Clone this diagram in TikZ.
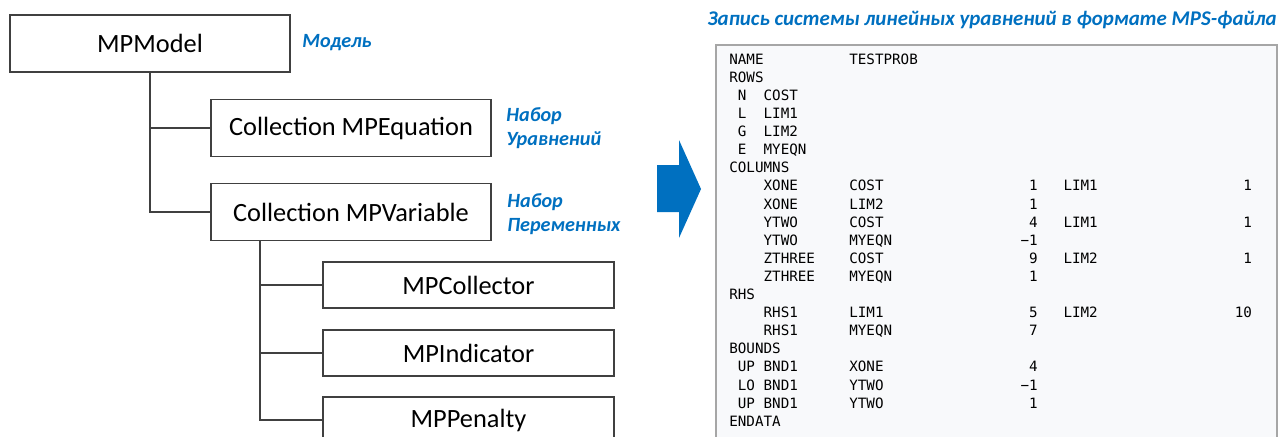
\documentclass[tikz,border=0pt]{standalone}
\usepackage{fontspec}
\setmainfont{Carlito}
\newfontfamily\mpsfont{DejaVu Sans Mono}
\usepackage{array}
\usepackage{tikz}

\definecolor{mpblue}{RGB}{0,112,192}
\definecolor{boxline}{RGB}{64,64,64}
\definecolor{filegray}{RGB}{166,166,166}
\definecolor{filebg}{RGB}{248,249,251}

% one character of the file font
\newlength\cw
\newcolumntype{L}[1]{>{\raggedright\arraybackslash}p{#1\cw}}
\newcolumntype{R}[1]{>{\raggedleft\arraybackslash}p{#1\cw}}

\tikzset{
	cls/.style={draw=boxline, line width=0.85pt, minimum width=5.6cm, minimum height=1.14cm, inner sep=0pt, font=\fontsize{15}{18}\selectfont},
	subcls/.style={cls, minimum width=5.82cm, minimum height=0.92cm},
	note/.style={anchor=west, align=left, inner sep=0pt, text=mpblue, font=\fontsize{11.5}{14}\selectfont\bfseries\itshape},
	link/.style={draw=boxline, line width=0.85pt}
}

\begin{document}
\begin{tikzpicture}[x=0.02cm,y=-0.02cm]
	\clip (0,0) rectangle (1280,436);
	% classes
	\node[cls] (model) at (150,43.5) {MPModel};
	\node[cls] (equation) at (351,128) {Collection MPEquation};
	\node[cls] (variable) at (351,212) {Collection MPVariable};
	\node[subcls] (collector) at (468.5,285) {MPCollector};
	\node[subcls] (indicator) at (468.5,353) {MPIndicator};
	\node[subcls] (penalty) at (468.5,420) {MPPenalty};

	% notes
	\node[note] (modelnote) at (302,43) {Модель};
	\node[note] (eqnote) at (506,128) {Набор\\Уравнений};
	\node[note] (varnote) at (507,214) {Набор\\Переменных};

	% tree
	\draw[link] (model.south) |- (variable.west);
	\draw[link] (model.south |- equation.west) -- (equation.west);
	\coordinate (varroot) at (260,241);
	\draw[link] (varroot) |- (penalty.west);
	\draw[link] (varroot |- collector.west) -- (collector.west);
	\draw[link] (varroot |- indicator.west) -- (indicator.west);

	% arrow
	\fill[mpblue] (657,165) -- (679,165) -- (679,140) -- (701,189) -- (679,238) -- (679,212) -- (657,212) -- cycle;

	% mps file
	\node[note, anchor=east, font=\fontsize{11.9}{14}\selectfont\bfseries\itshape] (title) at (1277,20) {Запись системы линейных уравнений в формате MPS-файла};
	\draw[draw=filegray, fill=filebg, line width=1.1pt] (716,45) rectangle (1277,460);
	\node[anchor=north west, inner sep=0pt, font=\mpsfont\fontsize{8.1}{10.3}\selectfont] (mps) at (729,51.3) {%
		\settowidth{\cw}{0}\setlength\tabcolsep{0pt}%
		\begin{tabular}{L{4}L{10}L{10}R{12}@{\hspace{3\cw}}L{10}R{12}}
			\multicolumn{2}{l}{NAME} & TESTPROB \\
			\multicolumn{2}{l}{ROWS} \\
			~N & COST \\
			~L & LIM1 \\
			~G & LIM2 \\
			~E & MYEQN \\
			\multicolumn{2}{l}{COLUMNS} \\
			& XONE & COST & 1 & LIM1 & 1 \\
			& XONE & LIM2 & 1 \\
			& YTWO & COST & 4 & LIM1 & 1 \\
			& YTWO & MYEQN & −1 \\
			& ZTHREE & COST & 9 & LIM2 & 1 \\
			& ZTHREE & MYEQN & 1 \\
			\multicolumn{2}{l}{RHS} \\
			& RHS1 & LIM1 & 5 & LIM2 & 10 \\
			& RHS1 & MYEQN & 7 \\
			\multicolumn{2}{l}{BOUNDS} \\
			~UP & BND1 & XONE & 4 \\
			~LO & BND1 & YTWO & −1 \\
			~UP & BND1 & YTWO & 1 \\
			\multicolumn{2}{l}{ENDATA} \\
		\end{tabular}};
\end{tikzpicture}
\end{document}
